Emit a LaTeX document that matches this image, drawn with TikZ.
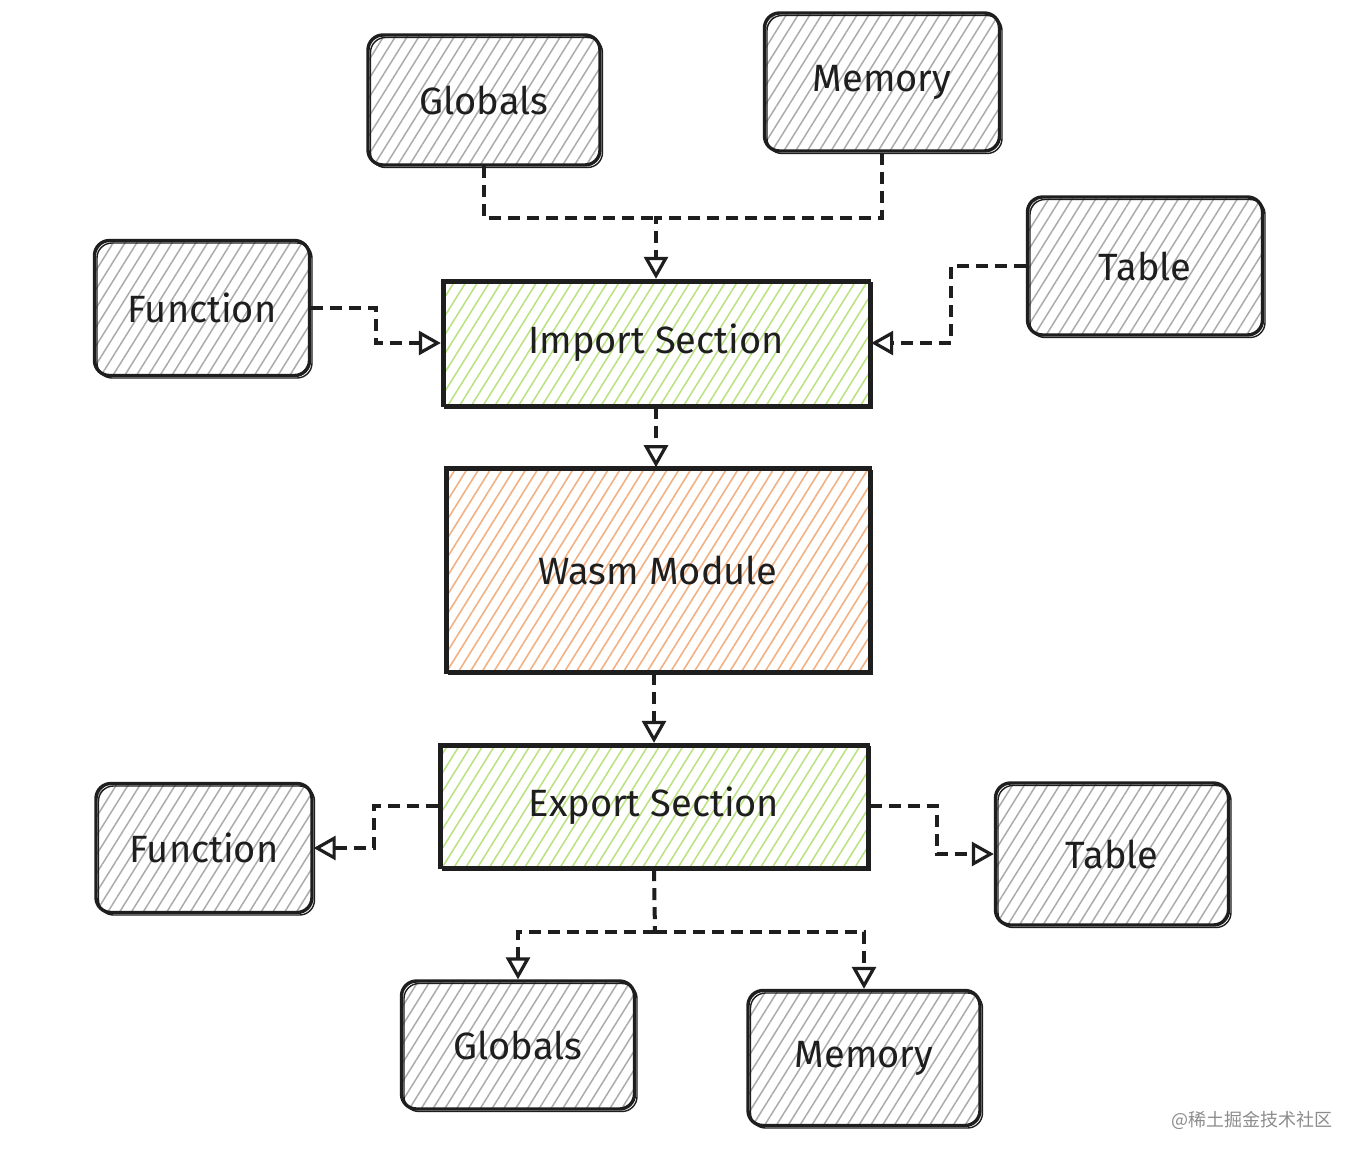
\documentclass[tikz,border=0pt]{standalone}
\usepackage{fontspec}
\setmainfont{Fira Sans}
\newfontfamily\cjk{Noto Sans CJK SC}
\usetikzlibrary{arrows.meta,patterns.meta}
\definecolor{ink}{HTML}{1E1E1E}
\definecolor{hgray}{HTML}{ABABAB}
\definecolor{hgreen}{HTML}{B9E27E}
\definecolor{horange}{HTML}{F2B182}
\begin{document}
\begin{tikzpicture}[x=1pt,y=-1pt,
  box/.style={draw=ink, line width=3.4pt, inner sep=0pt, text=ink,
    font=\fontsize{38}{44}\selectfont,
    postaction={draw=ink, line width=1.4pt, transform canvas={shift={(2.5pt,-2.5pt)}}}},
  graybox/.style={box, rounded corners=15pt,
    pattern={Lines[angle=58,distance=10pt,line width=1.5pt]}, pattern color=hgray},
  greenbox/.style={box,
    pattern={Lines[angle=58,distance=10pt,line width=1.5pt]}, pattern color=hgreen},
  orangebox/.style={box,
    pattern={Lines[angle=58,distance=10pt,line width=1.6pt]}, pattern color=horange},
  conn/.style={draw=ink, line width=4pt, dash pattern=on 12pt off 7pt,
    -{Triangle[open,length=22pt,width=24pt,line width=3.2pt]}},
  plain/.style={draw=ink, line width=4pt, dash pattern=on 12pt off 7pt}]
\useasboundingbox (0,0) rectangle (1362,1160);
\fill[white] (0,0) rectangle (1362,1160);

% top sources
\node[graybox, minimum width=232pt, minimum height=130pt] (glob1) at (484,100) {Globals};
\node[graybox, minimum width=235pt, minimum height=138pt] (mem1) at (882,82) {Memory};
\node[graybox, minimum width=215pt, minimum height=135pt] (fun1) at (202,308) {Function};
\node[graybox, minimum width=235pt, minimum height=138pt] (tab1) at (1145,266) {Table};

% central column
\node[greenbox, minimum width=427pt, minimum height=125pt] (imp) at (656,343) {Import Section};
\node[orangebox, minimum width=424pt, minimum height=204pt] (wasm) at (658,570) {Wasm Module};
\node[greenbox, minimum width=428pt, minimum height=123pt] (exp) at (654,806) {Export Section};

% bottom targets
\node[graybox, minimum width=216pt, minimum height=129pt] (fun2) at (204,848) {Function};
\node[graybox, minimum width=233pt, minimum height=142pt] (tab2) at (1112,854) {Table};
\node[graybox, minimum width=233pt, minimum height=128pt] (glob2) at (518,1045) {Globals};
\node[graybox, minimum width=232pt, minimum height=135pt] (mem2) at (864,1058) {Memory};

% junctions
\coordinate (jtop) at (656,218);
\coordinate (jbot) at (655,932);

% imports
\draw[plain] (glob1.south) |- (jtop);
\draw[conn] (mem1.south) |- (jtop) -- (imp.north);
\draw[conn] (fun1.east) -- ++(65,0) |- (imp.west);
\draw[conn] (tab1.west) -- ++(-75,0) |- (imp.east);

% core
\draw[conn] (imp.south) -- (wasm.north -| imp.south);
\draw[conn] (wasm.south -| exp.north) -- (exp.north);

% exports
\draw[conn] (exp.west) -- ++(-64,0) |- (fun2.east);
\draw[conn] (exp.east) -- ++(67,0) |- (tab2.west);
\draw[plain] (exp.south) -- (jbot);
\draw[conn] (jbot) -| (glob2.north);
\draw[conn] (jbot) -| (mem2.north);

% watermark
\node[font=\cjk\fontsize{18}{20}\selectfont, text=black!45, anchor=east] (wm) at (1336,1120) {@稀土掘金技术社区};
\end{tikzpicture}
\end{document}
